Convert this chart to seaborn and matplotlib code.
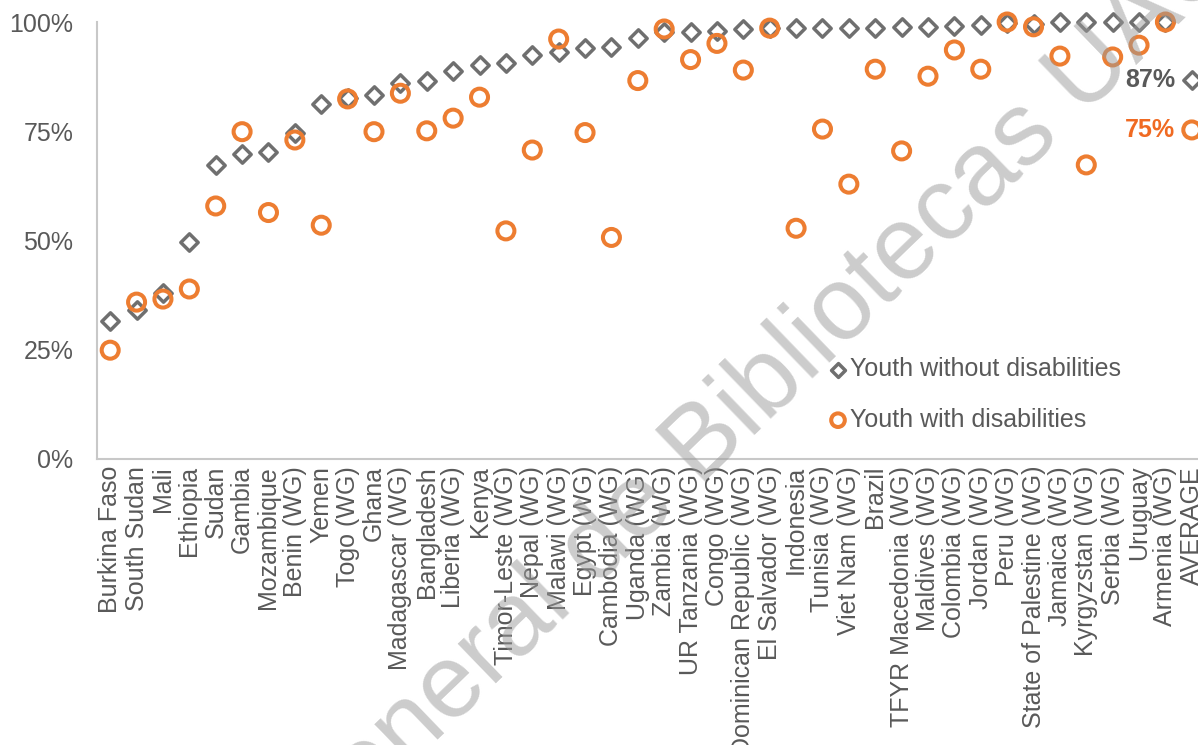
import numpy as np
import pandas as pd
import matplotlib
matplotlib.use("Agg")
import matplotlib.pyplot as plt
import seaborn as sns
from matplotlib.ticker import PercentFormatter

countries = [
    "Burkina Faso", "South Sudan", "Mali", "Ethiopia", "Sudan", "Gambia",
    "Mozambique", "Benin (WG)", "Yemen", "Togo (WG)", "Ghana", "Madagascar (WG)",
    "Bangladesh", "Liberia (WG)", "Kenya", "Timor-Leste (WG)", "Nepal (WG)",
    "Malawi (WG)", "Egypt (WG)", "Cambodia (WG)", "Uganda (WG)", "Zambia (WG)",
    "UR Tanzania (WG)", "Congo (WG)", "Dominican Republic (WG)", "El Salvador (WG)",
    "Indonesia", "Tunisia (WG)", "Viet Nam (WG)", "Brazil", "TFYR Macedonia (WG)",
    "Maldives (WG)", "Colombia (WG)", "Jordan (WG)", "Peru (WG)",
    "State of Palestine (WG)", "Jamaica (WG)", "Kyrgyzstan (WG)", "Serbia (WG)",
    "Uruguay", "Armenia (WG)", "AVERAGE",
]

without_dis = [31.6, 34.1, 38.0, 49.6, 67.2, 69.9, 70.2, 74.5, 81.3, 82.5, 83.2, 86.0,
               86.5, 88.8, 90.2, 90.6, 92.4, 93.2, 94.1, 94.2, 96.4, 97.6, 97.8, 98.0,
               98.4, 98.6, 98.6, 98.6, 98.6, 98.7, 98.9, 98.9, 99.1, 99.3, 99.7, 99.5,
               99.9, 100.0, 100.0, 100.0, 100.0, 86.7]

with_dis = [24.9, 35.9, 36.6, 38.9, 57.9, 74.9, 56.4, 73.0, 53.5, 82.4, 74.9, 83.7,
            75.1, 78.0, 82.8, 52.2, 70.7, 96.1, 74.7, 50.7, 86.6, 98.4, 91.4, 95.1,
            89.0, 98.6, 52.8, 75.5, 62.9, 89.2, 70.5, 87.6, 93.6, 89.2, 100.0, 98.9,
            92.2, 67.3, 92.0, 94.7, 100.0, 75.3]

avg_labels = ["87%", "75%"]

grey = "#6f6f6f"
orange = "#ED7D31"
text_grey = "#595959"
axis_grey = "#c8c8c8"

sns.set_style("white")
plt.rcParams["font.family"] = ["Liberation Sans", "DejaVu Sans"]
plt.rcParams["font.size"] = 18

df = pd.DataFrame({"country": countries, "without": without_dis, "with": with_dis})

fig = plt.figure(figsize=(11.98, 7.45), dpi=100)
ax = fig.add_axes([97 / 1198, 286 / 745, 1108 / 1198, 437 / 745])

sns.scatterplot(data=df, x="country", y="without", marker="D", s=78,
                facecolor="white", edgecolor=grey, linewidth=2.5,
                label="Youth without disabilities", ax=ax, zorder=3, clip_on=False)
sns.scatterplot(data=df, x="country", y="with", marker="o", s=150,
                facecolor="none", edgecolor=orange, linewidth=2.9,
                label="Youth with disabilities", ax=ax, zorder=4, clip_on=False)

ax.set_xlim(-0.5, len(countries) - 0.5)
ax.set_ylim(0, 100)
ax.set_yticks([0, 25, 50, 75, 100])
ax.yaxis.set_major_formatter(PercentFormatter(100, decimals=0))
ax.set_xlabel("")
ax.set_ylabel("")

for side in ["top", "right"]:
    ax.spines[side].set_visible(False)
for side in ["left", "bottom"]:
    ax.spines[side].set_color(axis_grey)
    ax.spines[side].set_linewidth(1.5)

ax.tick_params(axis="y", direction="in", length=6, width=1.2, color=axis_grey,
               pad=17, labelcolor=text_grey, labelsize=18)
ax.tick_params(axis="x", length=0, pad=5, labelcolor=text_grey, labelsize=18,
               labelrotation=90)

last = len(countries) - 1
ax.annotate(avg_labels[0], xy=(last, without_dis[-1]), xytext=(-12, 0),
            textcoords="offset points", ha="right", va="center",
            fontweight="bold", color=text_grey, fontsize=18)
ax.annotate(avg_labels[1], xy=(last, with_dis[-1]), xytext=(-12, 0),
            textcoords="offset points", ha="right", va="center",
            fontweight="bold", color="#F06A22", fontsize=18)

leg = ax.legend(loc="upper left", bbox_to_anchor=(818 / 1198, 1 - 345 / 745),
                bbox_transform=fig.transFigure, frameon=False, borderpad=0,
                handlelength=0.6, handletextpad=0.2, labelspacing=1.05,
                markerscale=0.8, fontsize=18)
for t in leg.get_texts():
    t.set_color(text_grey)

# watermark of the scanned source
fig.text(592 / 1198, 1 - 555 / 745, "Dirección General de Bibliotecas UAQ",
         rotation=44, rotation_mode="anchor", ha="center", va="center",
         fontsize=75, color="#9a9a9a", alpha=0.5, zorder=10)

fig.savefig("out.png", dpi=100)
